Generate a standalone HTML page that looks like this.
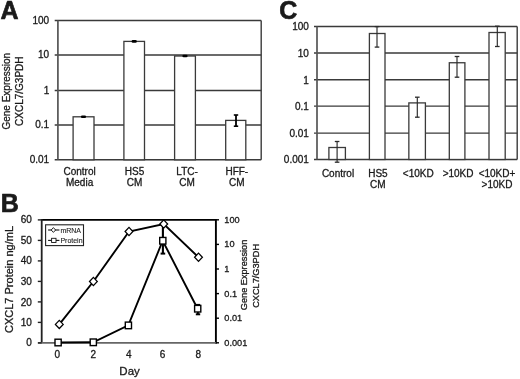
<!DOCTYPE html>
<html><head><meta charset="utf-8"><style>
html,body{margin:0;padding:0;background:#fff;}
svg{display:block;filter:grayscale(1);}
text{font-family:"Liberation Sans",sans-serif;fill:#1a1a1a;stroke-linejoin:round;}
</style></head><body>
<svg width="520" height="379" viewBox="0 0 520 379">
<rect width="520" height="379" fill="#fff"/>
<line x1="54.7" y1="20.5" x2="261.2" y2="20.5" stroke="#3a3a3a" stroke-width="1.4"/>
<text x="49.20" y="24.00" font-size="10" text-anchor="end" stroke="#1a1a1a" stroke-width="0.3">100</text>
<line x1="54.7" y1="55.0" x2="261.2" y2="55.0" stroke="#3a3a3a" stroke-width="1.4"/>
<text x="49.20" y="58.00" font-size="10" text-anchor="end" stroke="#1a1a1a" stroke-width="0.3">10</text>
<line x1="54.7" y1="90.5" x2="261.2" y2="90.5" stroke="#3a3a3a" stroke-width="1.4"/>
<text x="49.20" y="94.00" font-size="10" text-anchor="end" stroke="#1a1a1a" stroke-width="0.3">1</text>
<line x1="54.7" y1="125.0" x2="261.2" y2="125.0" stroke="#3a3a3a" stroke-width="1.4"/>
<text x="49.20" y="128.00" font-size="10" text-anchor="end" stroke="#1a1a1a" stroke-width="0.3">0.1</text>
<line x1="54.7" y1="159.8" x2="261.2" y2="159.8" stroke="#3a3a3a" stroke-width="1.4"/>
<text x="49.20" y="163.00" font-size="10" text-anchor="end" stroke="#1a1a1a" stroke-width="0.3">0.01</text>
<line x1="57.9" y1="20.5" x2="57.9" y2="159.8" stroke="#555" stroke-width="1.7"/>
<line x1="261.2" y1="20.5" x2="261.2" y2="159.8" stroke="#3a3a3a" stroke-width="1.4"/>
<rect x="73.10" y="116.80" width="20.90" height="43.00" fill="#fff" stroke="#3a3a3a" stroke-width="1.3"/>
<rect x="123.90" y="41.40" width="20.60" height="118.40" fill="#fff" stroke="#3a3a3a" stroke-width="1.3"/>
<rect x="174.60" y="56.00" width="20.80" height="103.80" fill="#fff" stroke="#3a3a3a" stroke-width="1.3"/>
<rect x="225.70" y="120.40" width="20.10" height="39.40" fill="#fff" stroke="#3a3a3a" stroke-width="1.3"/>
<rect x="80.90" y="115.50" width="5.2" height="2.6" rx="1.3" fill="#000"/>
<rect x="131.60" y="40.10" width="5.2" height="2.6" rx="1.3" fill="#000"/>
<rect x="182.40" y="54.70" width="5.2" height="2.6" rx="1.3" fill="#000"/>
<line x1="236" y1="115" x2="236" y2="126.2" stroke="#000" stroke-width="1.8"/>
<line x1="233.8" y1="115" x2="238.2" y2="115" stroke="#000" stroke-width="1.6"/>
<line x1="233.8" y1="126.2" x2="238.2" y2="126.2" stroke="#000" stroke-width="1.6"/>
<text x="79.60" y="175.00" font-size="10" text-anchor="middle" stroke="#1a1a1a" stroke-width="0.3">Control</text>
<text x="79.60" y="186.00" font-size="10" text-anchor="middle" stroke="#1a1a1a" stroke-width="0.3">Media</text>
<text x="134.50" y="175.00" font-size="10" text-anchor="middle" stroke="#1a1a1a" stroke-width="0.3">HS5</text>
<text x="134.50" y="186.00" font-size="10" text-anchor="middle" stroke="#1a1a1a" stroke-width="0.3">CM</text>
<text x="187.10" y="175.00" font-size="10" text-anchor="middle" stroke="#1a1a1a" stroke-width="0.3">LTC-</text>
<text x="187.10" y="186.00" font-size="10" text-anchor="middle" stroke="#1a1a1a" stroke-width="0.3">CM</text>
<text x="236.80" y="175.00" font-size="10" text-anchor="middle" stroke="#1a1a1a" stroke-width="0.3">HFF-</text>
<text x="236.80" y="186.00" font-size="10" text-anchor="middle" stroke="#1a1a1a" stroke-width="0.3">CM</text>
<text transform="translate(10.40,91.20) rotate(-90)" font-size="10" text-anchor="middle" stroke="#1a1a1a" stroke-width="0.3">Gene Expression</text>
<text transform="translate(22.80,91.20) rotate(-90)" font-size="10" text-anchor="middle" stroke="#1a1a1a" stroke-width="0.3">CXCL7/G3PDH</text>
<text x="0.60" y="18.70" font-size="25" font-weight="bold" stroke="#1a1a1a" stroke-width="0.7">A</text>
<line x1="314" y1="26.50" x2="517.2" y2="26.50" stroke="#3a3a3a" stroke-width="1.4"/>
<text x="308.90" y="30.00" font-size="10" text-anchor="end" stroke="#1a1a1a" stroke-width="0.3">100</text>
<line x1="314" y1="53.00" x2="517.2" y2="53.00" stroke="#3a3a3a" stroke-width="1.4"/>
<text x="308.90" y="57.00" font-size="10" text-anchor="end" stroke="#1a1a1a" stroke-width="0.3">10</text>
<line x1="314" y1="79.80" x2="517.2" y2="79.80" stroke="#3a3a3a" stroke-width="1.4"/>
<text x="308.90" y="84.00" font-size="10" text-anchor="end" stroke="#1a1a1a" stroke-width="0.3">1</text>
<line x1="314" y1="106.10" x2="517.2" y2="106.10" stroke="#3a3a3a" stroke-width="1.4"/>
<text x="308.90" y="110.00" font-size="10" text-anchor="end" stroke="#1a1a1a" stroke-width="0.3">0.1</text>
<line x1="314" y1="133.10" x2="517.2" y2="133.10" stroke="#3a3a3a" stroke-width="1.4"/>
<text x="308.90" y="137.00" font-size="10" text-anchor="end" stroke="#1a1a1a" stroke-width="0.3">0.01</text>
<line x1="314" y1="159.50" x2="517.2" y2="159.50" stroke="#3a3a3a" stroke-width="1.4"/>
<text x="308.90" y="163.00" font-size="10" text-anchor="end" stroke="#1a1a1a" stroke-width="0.3">0.001</text>
<line x1="317.0" y1="26.50" x2="317.0" y2="159.50" stroke="#555" stroke-width="1.7"/>
<line x1="517.2" y1="26.50" x2="517.2" y2="159.50" stroke="#3a3a3a" stroke-width="1.4"/>
<rect x="328.90" y="147.50" width="16.50" height="12.00" fill="#fff" stroke="#3a3a3a" stroke-width="1.3"/>
<rect x="369.40" y="33.50" width="15.60" height="126.00" fill="#fff" stroke="#3a3a3a" stroke-width="1.3"/>
<rect x="408.85" y="102.90" width="16.55" height="56.60" fill="#fff" stroke="#3a3a3a" stroke-width="1.3"/>
<rect x="449.30" y="62.75" width="15.60" height="96.75" fill="#fff" stroke="#3a3a3a" stroke-width="1.3"/>
<rect x="489.00" y="32.50" width="16.20" height="127.00" fill="#fff" stroke="#3a3a3a" stroke-width="1.3"/>
<line x1="337.10" y1="141.5" x2="337.10" y2="162.2" stroke="#2a2a2a" stroke-width="1.15"/>
<line x1="334.80" y1="141.5" x2="339.40" y2="141.5" stroke="#2a2a2a" stroke-width="1.3"/>
<line x1="334.80" y1="162.2" x2="339.40" y2="162.2" stroke="#2a2a2a" stroke-width="1.3"/>
<line x1="377.00" y1="26.6" x2="377.00" y2="47.1" stroke="#2a2a2a" stroke-width="1.15"/>
<line x1="374.70" y1="26.6" x2="379.30" y2="26.6" stroke="#2a2a2a" stroke-width="1.3"/>
<line x1="374.70" y1="47.1" x2="379.30" y2="47.1" stroke="#2a2a2a" stroke-width="1.3"/>
<line x1="417.30" y1="97.2" x2="417.30" y2="117.2" stroke="#2a2a2a" stroke-width="1.15"/>
<line x1="415.00" y1="97.2" x2="419.60" y2="97.2" stroke="#2a2a2a" stroke-width="1.3"/>
<line x1="415.00" y1="117.2" x2="419.60" y2="117.2" stroke="#2a2a2a" stroke-width="1.3"/>
<line x1="457.00" y1="56.5" x2="457.00" y2="77.2" stroke="#2a2a2a" stroke-width="1.15"/>
<line x1="454.70" y1="56.5" x2="459.30" y2="56.5" stroke="#2a2a2a" stroke-width="1.3"/>
<line x1="454.70" y1="77.2" x2="459.30" y2="77.2" stroke="#2a2a2a" stroke-width="1.3"/>
<line x1="497.30" y1="26.2" x2="497.30" y2="46.5" stroke="#2a2a2a" stroke-width="1.15"/>
<line x1="495.00" y1="26.2" x2="499.60" y2="26.2" stroke="#2a2a2a" stroke-width="1.3"/>
<line x1="495.00" y1="46.5" x2="499.60" y2="46.5" stroke="#2a2a2a" stroke-width="1.3"/>
<text x="338.00" y="177.00" font-size="10" text-anchor="middle" stroke="#1a1a1a" stroke-width="0.3">Control</text>
<text x="377.90" y="177.00" font-size="10" text-anchor="middle" stroke="#1a1a1a" stroke-width="0.3">HS5</text>
<text x="377.90" y="188.00" font-size="10" text-anchor="middle" stroke="#1a1a1a" stroke-width="0.3">CM</text>
<text x="418.30" y="177.00" font-size="10" text-anchor="middle" stroke="#1a1a1a" stroke-width="0.3">&lt;10KD</text>
<text x="458.10" y="177.00" font-size="10" text-anchor="middle" stroke="#1a1a1a" stroke-width="0.3">&gt;10KD</text>
<text x="497.00" y="177.00" font-size="10" text-anchor="middle" stroke="#1a1a1a" stroke-width="0.3">&lt;10KD+</text>
<text x="497.00" y="188.00" font-size="10" text-anchor="middle" stroke="#1a1a1a" stroke-width="0.3">&gt;10KD</text>
<text x="279.20" y="18.90" font-size="25" font-weight="bold" stroke="#1a1a1a" stroke-width="0.7">C</text>
<line x1="41.7" y1="219.8" x2="215.9" y2="219.8" stroke="#000" stroke-width="1.7"/>
<line x1="41.7" y1="219.0" x2="41.7" y2="342.9" stroke="#222" stroke-width="1.8"/>
<line x1="215.9" y1="219.0" x2="215.9" y2="343.7" stroke="#000" stroke-width="1.9"/>
<line x1="38" y1="342.9" x2="215.9" y2="342.9" stroke="#666" stroke-width="1.8"/>
<line x1="37.8" y1="342.90" x2="41.7" y2="342.90" stroke="#222" stroke-width="1.4"/>
<text x="31.90" y="346.00" font-size="10" text-anchor="end" stroke="#1a1a1a" stroke-width="0.3">0</text>
<line x1="37.8" y1="322.40" x2="41.7" y2="322.40" stroke="#222" stroke-width="1.4"/>
<text x="31.90" y="326.00" font-size="10" text-anchor="end" stroke="#1a1a1a" stroke-width="0.3">10</text>
<line x1="37.8" y1="301.90" x2="41.7" y2="301.90" stroke="#222" stroke-width="1.4"/>
<text x="31.90" y="306.00" font-size="10" text-anchor="end" stroke="#1a1a1a" stroke-width="0.3">20</text>
<line x1="37.8" y1="281.40" x2="41.7" y2="281.40" stroke="#222" stroke-width="1.4"/>
<text x="31.90" y="285.00" font-size="10" text-anchor="end" stroke="#1a1a1a" stroke-width="0.3">30</text>
<line x1="37.8" y1="260.90" x2="41.7" y2="260.90" stroke="#222" stroke-width="1.4"/>
<text x="31.90" y="264.00" font-size="10" text-anchor="end" stroke="#1a1a1a" stroke-width="0.3">40</text>
<line x1="37.8" y1="240.40" x2="41.7" y2="240.40" stroke="#222" stroke-width="1.4"/>
<text x="31.90" y="244.00" font-size="10" text-anchor="end" stroke="#1a1a1a" stroke-width="0.3">50</text>
<line x1="37.8" y1="219.90" x2="41.7" y2="219.90" stroke="#222" stroke-width="1.4"/>
<text x="31.90" y="223.00" font-size="10" text-anchor="end" stroke="#1a1a1a" stroke-width="0.3">60</text>
<line x1="215.9" y1="219.80" x2="219" y2="219.80" stroke="#000" stroke-width="1.4"/>
<text x="224.30" y="223.00" font-size="9.2" stroke="#1a1a1a" stroke-width="0.3">100</text>
<line x1="215.9" y1="244.40" x2="219" y2="244.40" stroke="#000" stroke-width="1.4"/>
<text x="224.30" y="247.00" font-size="9.2" stroke="#1a1a1a" stroke-width="0.3">10</text>
<line x1="215.9" y1="269.00" x2="219" y2="269.00" stroke="#000" stroke-width="1.4"/>
<text x="224.30" y="272.00" font-size="9.2" stroke="#1a1a1a" stroke-width="0.3">1</text>
<line x1="215.9" y1="293.60" x2="219" y2="293.60" stroke="#000" stroke-width="1.4"/>
<text x="224.30" y="297.00" font-size="9.2" stroke="#1a1a1a" stroke-width="0.3">0.1</text>
<line x1="215.9" y1="318.20" x2="219" y2="318.20" stroke="#000" stroke-width="1.4"/>
<text x="224.30" y="321.00" font-size="9.2" stroke="#1a1a1a" stroke-width="0.3">0.01</text>
<line x1="215.9" y1="342.80" x2="219" y2="342.80" stroke="#000" stroke-width="1.4"/>
<text x="224.30" y="346.00" font-size="9.2" stroke="#1a1a1a" stroke-width="0.3">0.001</text>
<text x="57.20" y="358.00" font-size="10" text-anchor="middle" stroke="#1a1a1a" stroke-width="0.3">0</text>
<text x="93.20" y="358.00" font-size="10" text-anchor="middle" stroke="#1a1a1a" stroke-width="0.3">2</text>
<text x="128.90" y="358.00" font-size="10" text-anchor="middle" stroke="#1a1a1a" stroke-width="0.3">4</text>
<text x="162.60" y="358.00" font-size="10" text-anchor="middle" stroke="#1a1a1a" stroke-width="0.3">6</text>
<text x="198.20" y="358.00" font-size="10" text-anchor="middle" stroke="#1a1a1a" stroke-width="0.3">8</text>
<text x="129.60" y="375.00" font-size="11.5" text-anchor="middle" stroke="#1a1a1a" stroke-width="0.3">Day</text>
<text transform="translate(13.20,279.50) rotate(-90)" font-size="11" text-anchor="middle" stroke="#1a1a1a" stroke-width="0.3">CXCL7 Protein ng/mL</text>
<text transform="translate(246.60,275.00) rotate(-90)" font-size="9.2" text-anchor="middle" stroke="#1a1a1a" stroke-width="0.3">Gene Expression</text>
<text transform="translate(259.00,275.90) rotate(-90)" font-size="9.2" text-anchor="middle" stroke="#1a1a1a" stroke-width="0.3">CXCL7/G3PDH</text>
<text x="0.80" y="211.90" font-size="25" font-weight="bold" stroke="#1a1a1a" stroke-width="0.7">B</text>
<line x1="162.9" y1="226" x2="162.9" y2="253.8" stroke="#000" stroke-width="2.1"/>
<line x1="160.6" y1="253.6" x2="165.2" y2="253.6" stroke="#000" stroke-width="2.0"/>
<line x1="197.9" y1="304.6" x2="197.9" y2="314.4" stroke="#000" stroke-width="1.8"/>
<line x1="195.6" y1="304.8" x2="200.2" y2="304.8" stroke="#000" stroke-width="1.8"/>
<line x1="195.8" y1="314.3" x2="200.2" y2="314.3" stroke="#000" stroke-width="2.0"/>
<polyline points="58.0,342.5 93.2,342.3 128.3,325.4 162.7,240.75 197.6,308.7" fill="none" stroke="#000" stroke-width="1.9"/>
<polyline points="59.3,324.4 93.4,281.5 129.0,231.5 163.75,224.0 198.5,257.25" fill="none" stroke="#000" stroke-width="1.9"/>
<rect x="55.00" y="339.20" width="6.2" height="6.6" fill="#fff" stroke="#000" stroke-width="1.4"/>
<rect x="90.20" y="339.00" width="6.2" height="6.6" fill="#fff" stroke="#000" stroke-width="1.4"/>
<rect x="125.30" y="322.10" width="6.2" height="6.6" fill="#fff" stroke="#000" stroke-width="1.4"/>
<rect x="159.70" y="237.45" width="6.2" height="6.6" fill="#fff" stroke="#000" stroke-width="1.4"/>
<rect x="194.60" y="305.40" width="6.2" height="6.6" fill="#fff" stroke="#000" stroke-width="1.4"/>
<path d="M55.4,324.4 L59.3,320.29999999999995 L63.199999999999996,324.4 L59.3,328.5 Z" fill="#fff" stroke="#000" stroke-width="1.25"/>
<path d="M89.5,281.5 L93.4,277.4 L97.30000000000001,281.5 L93.4,285.6 Z" fill="#fff" stroke="#000" stroke-width="1.25"/>
<path d="M125.1,231.5 L129.0,227.4 L132.9,231.5 L129.0,235.6 Z" fill="#fff" stroke="#000" stroke-width="1.25"/>
<path d="M159.85,224.0 L163.75,219.9 L167.65,224.0 L163.75,228.1 Z" fill="#fff" stroke="#000" stroke-width="1.25"/>
<path d="M194.6,257.25 L198.5,253.15 L202.4,257.25 L198.5,261.35 Z" fill="#fff" stroke="#000" stroke-width="1.25"/>
<rect x="45.6" y="224.8" width="37.9" height="20.8" fill="#fff" stroke="#222" stroke-width="1.1"/>
<line x1="48.1" y1="230" x2="59.4" y2="230" stroke="#111" stroke-width="1.1"/>
<path d="M51.2,230 L53.4,227.6 L55.6,230 L53.4,232.4 Z" fill="#fff" stroke="#111" stroke-width="0.9"/>
<line x1="48.1" y1="240.4" x2="59.4" y2="240.4" stroke="#111" stroke-width="1.1"/>
<rect x="51.6" y="238.3" width="4.4" height="4.2" fill="#fff" stroke="#111" stroke-width="0.9"/>
<text x="60.40" y="233.00" font-size="7" stroke="#1a1a1a" stroke-width="0.1">mRNA</text>
<text x="60.40" y="243.00" font-size="7" stroke="#1a1a1a" stroke-width="0.1">Protein</text>
</svg>
</body></html>
